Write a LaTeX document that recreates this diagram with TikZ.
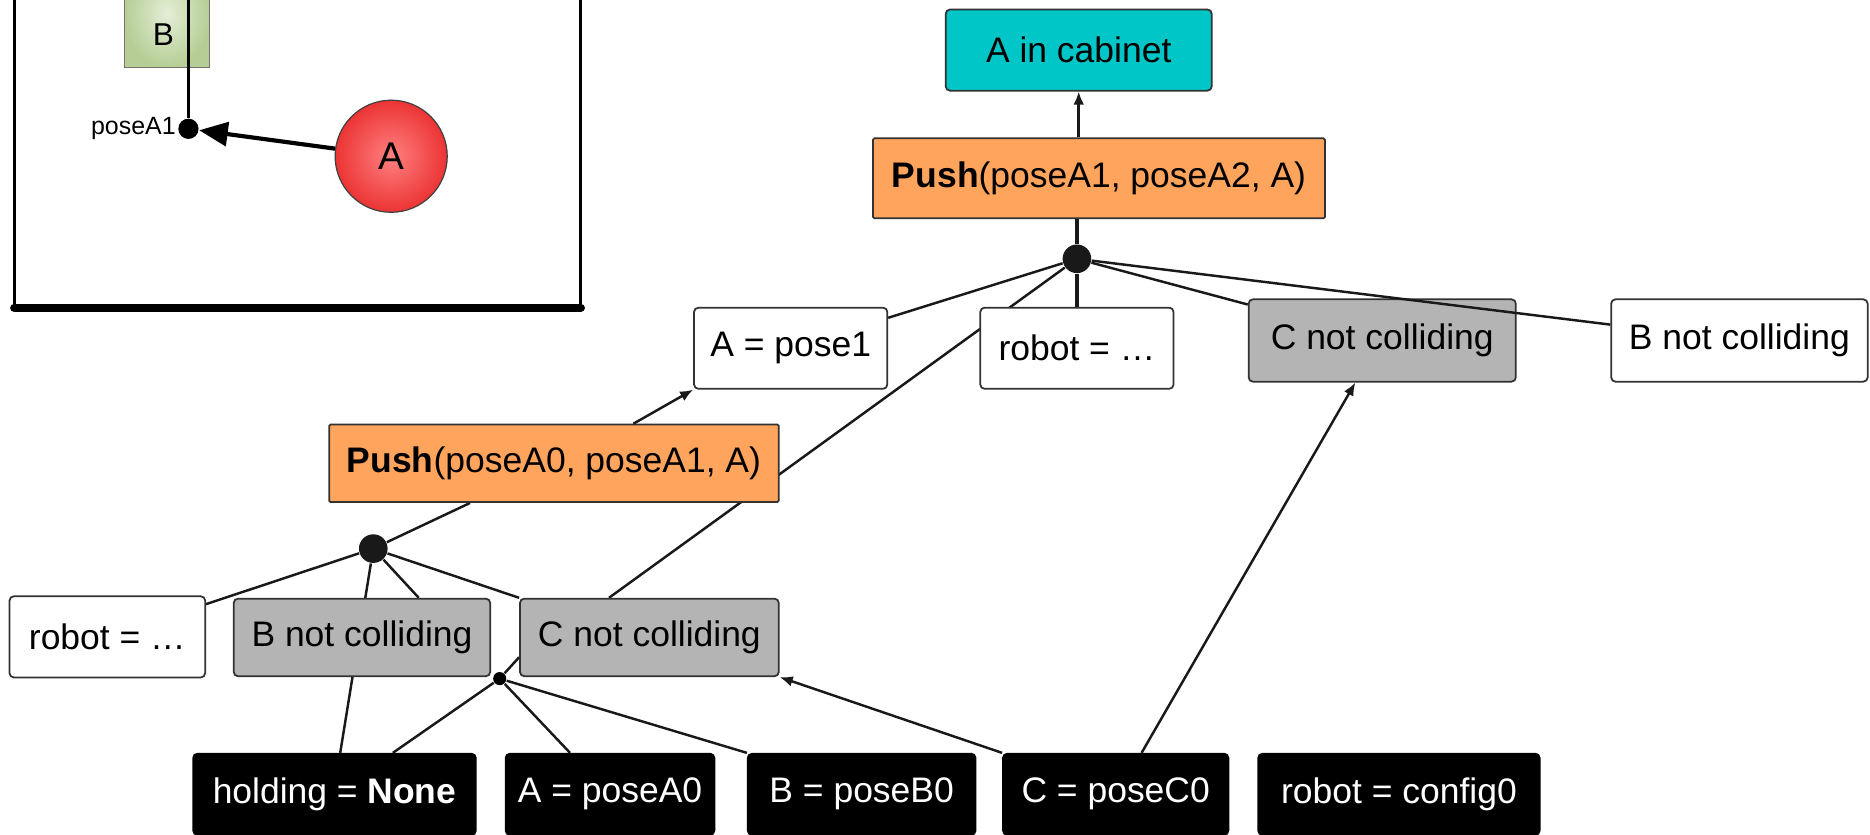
\documentclass[tikz,border=0pt]{standalone}
\usepackage{fontspec}
\setmainfont{Liberation Sans}
\usetikzlibrary{arrows.meta,calc,backgrounds}
\newlength\px
\setlength\px{0.011926cm}
\definecolor{goalcyan}{RGB}{0,198,200}
\definecolor{oporange}{RGB}{255,164,92}
\definecolor{factgrey}{RGB}{180,180,180}
\definecolor{edgegrey}{RGB}{50,50,50}
\begin{document}
\begin{tikzpicture}[x=\px, y=-\px,
  box/.style={draw=edgegrey, line width=0.5pt, rounded corners=1.2pt,
    minimum height=68\px, inner sep=0pt, text=black,
    font=\fontsize{10.1}{12}\selectfont},
  goalbox/.style={box, fill=goalcyan},
  opbox/.style={box, fill=oporange, rounded corners=0.4pt},
  factbox/.style={box, fill=white},
  greybox/.style={box, fill=factgrey},
  initbox/.style={box, fill=black, draw=black, text=white},
  anddot/.style={circle, fill=black!90, inner sep=0pt, minimum size=24\px},
  smalldot/.style={circle, fill=black, inner sep=0pt, minimum size=11\px},
  link/.style={line width=0.7pt, black!90},
  heavylink/.style={line width=1.1pt, black!90},
  achieve/.style={link, -{Latex[length=0.131cm,width=0.107cm]}}]

\begin{pgfonlayer}{background}
  \fill[white] (0,0) rectangle (1568,700);
\end{pgfonlayer}
\useasboundingbox (0,0) rectangle (1568,700);

% ---------- inset: the scene ----------
\begin{scope}
  \clip (0,0) rectangle (1568,700);
  \coordinate (frameTL) at (12,-20);
  \coordinate (frameBL) at (12,258);
  \coordinate (frameBR) at (487,258);
  \coordinate (frameTR) at (487,-20);
  \draw[line width=2.5\px] (frameTL) -- (frameBL);
  \draw[line width=2.5\px] (frameTR) -- (frameBR);
  \draw[line width=7\px, line cap=round] (frameBL) -- (frameBR);

  \node[draw=black!55, line width=1\px, shading=radial,
        inner color={rgb,255:red,228;green,238;blue,214},
        outer color={rgb,255:red,182;green,206;blue,150},
        minimum width=71\px, minimum height=90\px, inner sep=0pt,
        anchor=south west] (blockB) at (104,57) {};
  \node[font=\fontsize{9}{10}\selectfont, inner sep=0pt] (labelB) at (137,29) {B};

  \node[circle, fill=black, inner sep=0pt, minimum size=17\px] (dotA) at (158,108) {};
  \coordinate (railtop) at (158,-20);
  \draw[line width=3\px] (railtop) -- (dotA);
  \node[anchor=east, inner sep=1\px, font=\fontsize{7.1}{8}\selectfont] (poselabel) at (dotA.west) {poseA1};

  \node[circle, draw=black!75, line width=1\px, shading=radial,
        inner color={rgb,255:red,255;green,128;blue,128},
        outer color={rgb,255:red,236;green,52;blue,52},
        minimum size=94\px, inner sep=0pt,
        font=\fontsize{11}{12}\selectfont] (ballA) at (328,131) {A};
  \draw[line width=3.5\px, -{Triangle[length=0.286cm,width=0.239cm]}] (ballA) -- (dotA);
\end{scope}

% ---------- upper plan step ----------
\node[goalbox, minimum width=223\px] (goal) at (904.5,42) {A in cabinet};
\node[opbox, minimum width=379\px, minimum height=67\px] (push1) at (921.5,149.5)
  {\textbf{Push}(poseA1, poseA2, A)};
\node[anddot] (dot1) at (903,217) {};

\node[factbox, minimum width=162\px] (pose1) at (663,292) {A = pose1};
\node[factbox, minimum width=162\px] (robot1) at (903,292) {robot = …};
\node[greybox, minimum width=224\px, minimum height=69\px] (cnc1) at (1159,285.5) {C not colliding};
\node[factbox, minimum width=215\px, minimum height=69\px] (bnc1) at (1458.5,285.5) {B not colliding};

% ---------- lower plan step ----------
\node[opbox, minimum width=377\px, minimum height=65\px] (push0) at (464.5,388.5)
  {\textbf{Push}(poseA0, poseA1, A)};
\node[anddot] (dot2) at (313,460) {};

\node[factbox, minimum width=164\px] (robot0) at (90,534) {robot = …};
\node[greybox, minimum width=215\px, minimum height=65\px] (bnc0) at (303.5,534.5) {B not colliding};
\node[greybox, minimum width=217\px, minimum height=65\px] (cnc0) at (544.5,534.5) {C not colliding};
\node[smalldot] (dot3) at (419,569) {};

% ---------- initial state ----------
\node[initbox, minimum width=237\px] (holding) at (280.5,666) {holding = \textbf{None}};
\node[initbox, minimum width=175\px] (apose0) at (511.5,666) {A = poseA0};
\node[initbox, minimum width=191\px] (bpose0) at (722.5,666) {B = poseB0};
\node[initbox, minimum width=189\px] (cpose0) at (935.5,666) {C = poseC0};
\node[initbox, minimum width=236\px] (rconf) at (1173,666) {robot = config0};

% ---------- connectors ----------
\begin{pgfonlayer}{background}
  \draw[heavylink] (dot1 |- push1.south) -- (dot1);
  \draw[link] (dot1) -- (pose1);
  \draw[heavylink] (dot1) -- (robot1);
  \draw[link] (dot1) -- (cnc1);
  \draw[link] (dot1) -- ($(cnc0.north west)!0.345!(cnc0.north east)$);

  \draw[link] (dot2) -- (push0);
  \draw[link] (dot2) -- (robot0);
  \draw[link] (dot2) -- ($(bnc0.north west)!0.72!(bnc0.north east)$);
  \draw[link] (dot2) -- (cnc0.north west);
  \draw[link] (dot2) -- ($(holding.north west)!0.52!(holding.north east)$);

  \draw[link] (dot3) -- ($(cnc0.south west)!0.25!(cnc0.north west)$);
  \draw[link] (dot3) -- ($(holding.north west)!0.705!(holding.north east)$);
  \draw[link] (dot3) -- ($(apose0.north west)!0.31!(apose0.north east)$);
  \draw[link] (dot3) -- (bpose0.north west);
\end{pgfonlayer}
\draw[link] (dot1) -- (bnc1);

\draw[achieve] (goal.south |- push1.north) -- (goal.south);
\draw[achieve] ($(push0.north west)!0.676!(push0.north east)$) -- (pose1.south west);
\draw[achieve] (cpose0.north west) -- (cnc0.south east);
\draw[achieve] ($(cpose0.north west)!0.614!(cpose0.north east)$) -- ($(cnc1.south west)!0.40!(cnc1.south east)$);
\end{tikzpicture}
\end{document}
